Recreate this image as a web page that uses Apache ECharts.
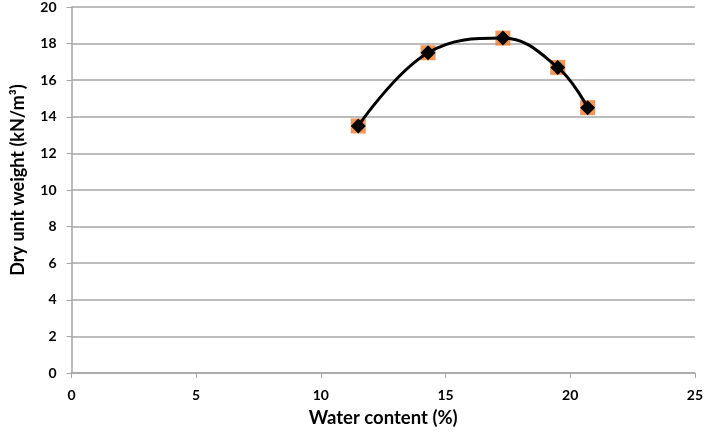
<!DOCTYPE html>
<html><head><meta charset="utf-8">
<script src="https://cdn.jsdelivr.net/npm/echarts@6/dist/echarts.min.js"></script>
<style>html,body{margin:0;padding:0;background:#fff}#c{width:706px;height:434px}</style>
</head><body><div id="c"></div>
<script>
const waterContent = [11.5, 14.3, 17.3, 19.5, 20.7];
const dryUnitWeight = [13.5, 17.5, 18.3, 16.7, 14.5];
const xTitle = 'Water content (%)';
const yTitle = 'Dry unit weight (kN/m³)';

const pts = waterContent.map((x, i) => [x, dryUnitWeight[i]]);
const font = 'Lato, "Open Sans", sans-serif';
const chart = echarts.init(document.getElementById('c'), null, {renderer: 'canvas'});
chart.setOption({
  animation: false,
  grid: {left: 71.5, right: 7.5, top: 6, bottom: 61},
  xAxis: {
    type: 'value', min: 0, max: 25, interval: 5,
    name: xTitle, nameLocation: 'middle', nameGap: 36,
    nameTextStyle: {fontFamily: font, fontWeight: 'bold', fontSize: 18.5, color: '#000'},
    axisLine: {lineStyle: {color: '#a6a6a6', width: 1.5}},
    axisTick: {show: true, length: 5, lineStyle: {color: '#a6a6a6'}},
    axisLabel: {fontFamily: font, fontWeight: 'bold', fontSize: 14, color: '#000', margin: 15},
    splitLine: {show: false}
  },
  yAxis: {
    type: 'value', min: 0, max: 20, interval: 2,
    name: yTitle, nameLocation: 'middle', nameGap: 44,
    nameTextStyle: {fontFamily: font, fontWeight: 'bold', fontSize: 18, color: '#000', padding: [0, 0, 0, 20]},
    axisLine: {show: true, lineStyle: {color: '#a6a6a6', width: 1.5}},
    axisTick: {show: true, length: 5, lineStyle: {color: '#a6a6a6'}},
    axisLabel: {fontFamily: font, fontWeight: 'bold', fontSize: 14, color: '#000', margin: 15},
    splitLine: {show: true, lineStyle: {color: '#a6a6a6', width: 1.5}}
  },
  series: [
    {
      type: 'scatter', data: pts, symbol: 'rect', symbolSize: 15,
      itemStyle: {color: '#ed7d31'}, z: 2
    },
    {
      type: 'line', data: pts, smooth: 0.4, symbol: 'diamond', symbolSize: 15,
      showSymbol: true,
      lineStyle: {color: '#000', width: 3},
      itemStyle: {color: '#000'}, z: 3
    }
  ]
});
</script></body></html>
